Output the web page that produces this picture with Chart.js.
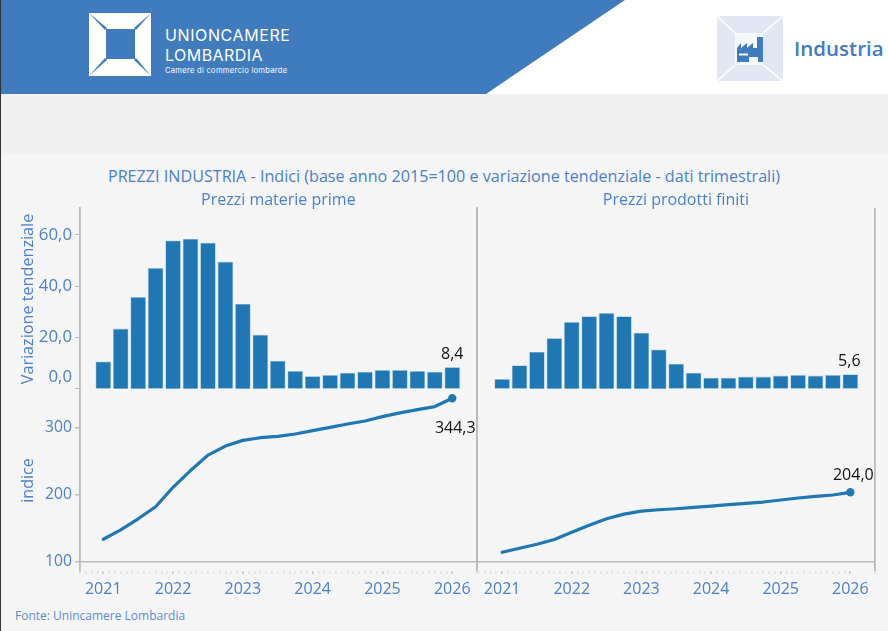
<!DOCTYPE html>
<html lang="it">
<head>
<meta charset="utf-8">
<title>Prezzi industria</title>
<script src="https://cdn.jsdelivr.net/npm/chart.js@4"></script>
<style>
    html, body { margin: 0; padding: 0; }
    body { width: 888px; height: 631px; position: relative; overflow: hidden; background: #f0f0f0; font-family: "Open Sans", sans-serif; }
    #bordo { position: absolute; left: 0; top: 0; width: 1px; height: 631px; background: #333; z-index: 5; }
    #bianco { position: absolute; left: 0; top: 0; width: 888px; height: 94px; background: #fff; }
    #banda { position: absolute; left: 0; top: 0; width: 888px; height: 94px; background: #3f7bbd; clip-path: polygon(0 0, 625px 0, 486px 94px, 0 94px); }
    #sfondo { position: absolute; left: 0; top: 153px; width: 888px; height: 478px; background: #f5f5f5; }
    svg { position: absolute; }
    .marchio { position: absolute; left: 165px; color: #fff; font-family: Inter, sans-serif; white-space: nowrap; }
    #industria { position: absolute; left: 794px; top: 34px; font-size: 20.5px; font-weight: 600; color: #3f7bbd; line-height: 29px; }
    #titolo { position: absolute; left: 0; width: 888px; top: 165px; text-align: center; font-size: 16.15px; line-height: 22px; color: #4b80c6; }
    #fonte { position: absolute; left: 15px; top: 607px; font-size: 12px; line-height: 18px; color: #5c8bcb; }
    canvas { position: absolute; top: 153px; }
</style>
</head>
<body>
<div id="bianco"></div>
<div id="banda"></div>
<div id="sfondo"></div>
<div id="bordo"></div>

<svg style="left:89px;top:13px" width="62" height="63" viewBox="0 0 62 63">
    <rect width="62" height="63" fill="#fff"/>
    <rect x="17" y="16" width="29" height="30" fill="#3f7bbd"/>
    <polygon points="0,0 18,15 16,17" fill="#3f7bbd"/>
    <polygon points="62,0 47,17 45,15" fill="#3f7bbd"/>
    <polygon points="0,63 16,45 18,47" fill="#3f7bbd"/>
    <polygon points="62,63 45,47 47,45" fill="#3f7bbd"/>
</svg>
<div class="marchio" style="top:25px;font-size:16px;line-height:20px;letter-spacing:.6px">UNIONCAMERE</div>
<div class="marchio" style="top:45px;font-size:16px;line-height:20px;letter-spacing:.45px">LOMBARDIA</div>
<div class="marchio" style="top:65px;font-size:7.6px;line-height:12px;letter-spacing:.27px">Camere di commercio lombarde</div>

<svg style="left:717px;top:16px" width="66" height="65" viewBox="0 0 66 65">
    <rect width="66" height="65" fill="#e0e7f3"/>
    <rect x="18" y="17" width="28" height="32" fill="#f6f8fc"/>
    <path d="M0 0L18 17M66 0L46 17M0 65L18 49M66 65L46 49" stroke="#fff" stroke-width="1.5"/>
    <path d="M20 46V32L24 27V32L30 27V32L36 27V32H40V21H46V46H41V41H32V46Z" fill="#3f7bbd"/>
    <rect x="22" y="37.5" width="9" height="2" fill="#fff"/>
</svg>
<div id="industria">Industria</div>

<div id="titolo">PREZZI INDUSTRIA - Indici (base anno 2015=100 e variazione tendenziale - dati trimestrali)</div>
<div id="fonte">Fonte: Unincamere Lombardia</div>

<canvas id="graficoMaterie" width="490" height="478" style="left:0"></canvas>
<canvas id="graficoProdotti" width="418" height="478" style="left:470px"></canvas>

<script>
// Trimestri da 2021 T1 a 2026 T1, come anno decimale
const trimestri = [
    2021, 2021.25, 2021.5, 2021.75,
    2022, 2022.25, 2022.5, 2022.75,
    2023, 2023.25, 2023.5, 2023.75,
    2024, 2024.25, 2024.5, 2024.75,
    2025, 2025.25, 2025.5, 2025.75,
    2026
];
const tickAnni = [2021, 2022, 2023, 2024, 2025, 2026];
const tickVariazione = [0, 20, 40, 60];
const tickIndice = [100, 200, 300];

// Variazione tendenziale (barre)
const variazioneMaterie = [10.6, 23.4, 35.7, 47.0, 57.7, 58.4, 56.9, 49.5, 33.1, 21.0, 10.9, 6.9, 4.9, 5.3, 6.2, 6.6, 7.3, 7.3, 6.9, 6.6, 8.4];
const variazioneProdotti = [3.8, 9.1, 14.4, 19.7, 26.0, 28.2, 29.5, 28.2, 21.8, 15.3, 9.7, 6.2, 4.3, 4.3, 4.7, 4.7, 5.1, 5.3, 5.1, 5.3, 5.6];

// Indice base 2015=100 (linee)
const indiceMaterie = [134, 148, 164.5, 182.5, 211.5, 236.5, 259.5, 273, 281.5, 285.5, 287.5, 291, 296, 301, 306, 310.5, 317, 322.5, 327.5, 332, 344.3];
const indiceProdotti = [114.5, 120.5, 126.5, 133.5, 144.5, 155, 164.5, 171.5, 176, 178, 179.5, 181.5, 183.5, 185.5, 187.5, 189.5, 192.5, 195.5, 198, 200, 204.0];

const BLU = "#1f77b4";
const TESTO = "#4b80c6";
const GRIGIO = "#bbbbbb";
const FONT = '"Open Sans", sans-serif';

function virgola(valore) {
    return valore.toFixed(1).replace(".", ",");
}

// Scrive l'ultimo valore di barre e linea sopra o sotto il punto
const etichetteFinali = {
    id: "etichetteFinali",
    afterDatasetsDraw(chart, args, opts) {
        const ctx = chart.ctx;
        ctx.save();
        ctx.font = "16px " + FONT;
        ctx.fillStyle = "#111";
        ctx.textAlign = "center";
        ctx.textBaseline = "middle";
        chart.data.datasets.forEach((ds, i) => {
            const ultimo = chart.getDatasetMeta(i).data[ds.data.length - 1];
            const sp = opts.spostamenti[i];
            ctx.fillText(virgola(ds.data[ds.data.length - 1].y), ultimo.x + sp[0], ultimo.y + sp[1]);
        });
        ctx.restore();
    }
};

function creaPannello(id, conf) {
    const etichette = conf.conAsse;
    new Chart(document.getElementById(id), {
        type: "bar",
        data: {
            datasets: [
                {
                    type: "bar",
                    data: conf.variazione.map((v, i) => ({ x: trimestri[i], y: v })),
                    yAxisID: "yBarre",
                    backgroundColor: BLU,
                    borderColor: "#a9cbe3",
                    borderWidth: 0.8,
                    barThickness: 15,
                    order: 2
                },
                {
                    type: "line",
                    data: conf.indice.map((v, i) => ({ x: trimestri[i], y: v })),
                    yAxisID: "yLinea",
                    borderColor: BLU,
                    backgroundColor: BLU,
                    borderWidth: 3.2,
                    borderCapStyle: "round",
                    borderJoinStyle: "round",
                    pointRadius: c => c.dataIndex === conf.indice.length - 1 ? 2.6 : 0,
                    tension: 0,
                    clip: false,
                    order: 1
                }
            ]
        },
        options: {
            responsive: false,
            animation: false,
            layout: { padding: { top: 37, left: conf.sinistra, right: 13.3, bottom: 0 } },
            plugins: {
                legend: { display: false },
                tooltip: { enabled: false },
                title: {
                    display: true,
                    text: conf.titolo,
                    fullSize: false,
                    color: TESTO,
                    font: { family: FONT, size: 16, weight: "normal", lineHeight: 1 },
                    padding: { top: 2, bottom: 0 }
                },
                etichetteFinali: { spostamenti: conf.spostamenti }
            },
            scales: {
                x: {
                    type: "linear",
                    min: conf.xMin,
                    max: conf.xMax,
                    offset: false,
                    afterBuildTicks: scala => {
                        const tacche = [];
                        for (let m = 0; m <= 64; m++) tacche.push({ value: 2021 - 4 / 12 + m / 12 });
                        tacche.push({ value: conf.xMax });
                        scala.ticks = tacche.filter(t => t.value >= conf.xMin && t.value <= conf.xMax);
                    },
                    afterFit: scala => { scala.height = 60; },
                    border: { display: false },
                    grid: {
                        offset: false,
                        color: c => c.tick && c.tick.value === conf.xMax ? GRIGIO : "transparent",
                        lineWidth: 1.8,
                        tickLength: 3,
                        tickWidth: 1,
                        tickColor: c => tickAnni.some(a => Math.abs(c.tick.value - a) < 0.01) ? "#aaaaaa" : "#d6d6d6"
                    },
                    ticks: {
                        autoSkip: false,
                        maxRotation: 0,
                        padding: 6,
                        color: TESTO,
                        font: { family: FONT, size: 16 },
                        callback: v => {
                            const anno = tickAnni.find(a => Math.abs(v - a) < 0.01);
                            return anno ? String(anno) : "";
                        }
                    }
                },
                yLinea: {
                    position: "left",
                    stack: "pannello",
                    stackWeight: 181,
                    min: 100 - 9 / 0.67,
                    max: 100 + (562 - 390) / 0.67,
                    afterBuildTicks: scala => { scala.ticks = tickIndice.map(v => ({ value: v })); },
                    afterFit: scala => { scala.width = etichette ? 80 : 0; },
                    border: { display: true, color: GRIGIO, width: 1.8 },
                    grid: {
                        color: c => c.tick && c.tick.value === 100 ? GRIGIO : "transparent",
                        lineWidth: 1.5,
                        drawTicks: etichette,
                        tickLength: 5,
                        tickColor: GRIGIO
                    },
                    ticks: {
                        display: etichette,
                        autoSkip: false,
                        padding: 3,
                        color: TESTO,
                        font: { family: FONT, size: 15.7 },
                        callback: v => String(v)
                    },
                    title: {
                        display: etichette,
                        text: "indice",
                        color: TESTO,
                        font: { family: FONT, size: 16 },
                        padding: { top: 19, bottom: 0 }
                    }
                },
                yBarre: {
                    position: "left",
                    stack: "pannello",
                    stackWeight: 182,
                    min: -(390 - 389) / 2.567,
                    max: (389 - 208) / 2.567,
                    afterBuildTicks: scala => { scala.ticks = tickVariazione.map(v => ({ value: v })); },
                    afterFit: scala => { scala.width = etichette ? 80 : 0; },
                    border: { display: true, color: GRIGIO, width: 1.8 },
                    grid: {
                        drawOnChartArea: false,
                        drawTicks: etichette,
                        tickLength: 5,
                        tickColor: GRIGIO
                    },
                    ticks: {
                        display: etichette,
                        autoSkip: false,
                        padding: 3,
                        color: TESTO,
                        font: { family: FONT, size: 16.8, lineHeight: 1.4 },
                        // lo zero sta piu' in alto della sua tacca, come nell'originale
                        callback: v => v === 0 ? [virgola(v), ""] : virgola(v)
                    },
                    title: {
                        display: etichette,
                        text: "Variazione tendenziale",
                        color: TESTO,
                        font: { family: FONT, size: 16.2 },
                        padding: { top: 19, bottom: 0 }
                    }
                }
            }
        },
        plugins: [etichetteFinali]
    });
}

creaPannello("graficoMaterie", {
    titolo: "Prezzi materie prime",
    variazione: variazioneMaterie,
    indice: indiceMaterie,
    conAsse: true,
    sinistra: 0,
    xMin: 2021 - 4 / 12,
    xMax: 2026.35,
    spostamenti: [[0, -13], [3, 30]]
});

creaPannello("graficoProdotti", {
    titolo: "Prezzi prodotti finiti",
    variazione: variazioneProdotti,
    indice: indiceProdotti,
    conAsse: false,
    sinistra: 6.7,
    xMin: 2020.642,
    xMax: 2026.35,
    spostamenti: [[-1, -13], [3, -17]]
});
</script>
</body>
</html>
